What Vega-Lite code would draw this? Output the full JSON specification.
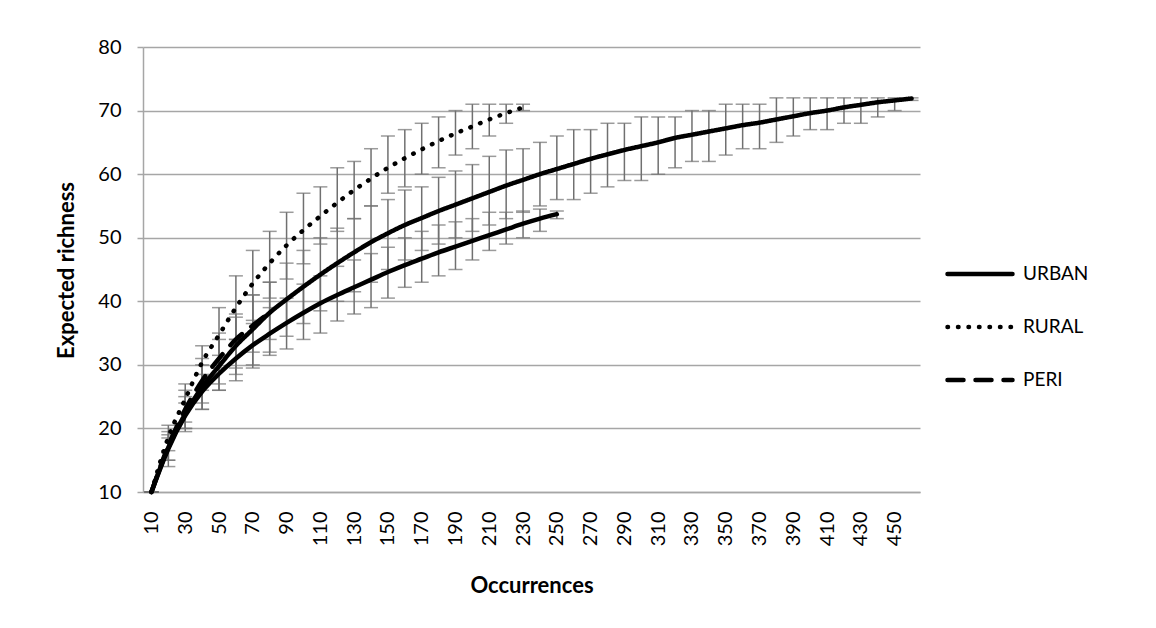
{
  "$schema": "https://vega.github.io/schema/vega-lite/v6.json",
  "width": 777,
  "height": 445,
  "autosize": "none",
  "padding": {"left": 143, "top": 47, "right": 236, "bottom": 136},
  "background": "white",
  "config": {
    "view": {"stroke": null},
    "font": "Lato",
    "axis": {
      "labelFont": "Lato", "titleFont": "Lato",
      "labelFontSize": 20, "titleFontSize": 22,
      "labelColor": "#000000", "titleColor": "#000000",
      "domainColor": "#a6a6a6", "domainWidth": 1.5,
      "tickColor": "#a6a6a6", "tickWidth": 1.5,
      "gridColor": "#a6a6a6", "gridWidth": 1.5,
      "titleFontWeight": "bold"
    },
    "axisY": {"grid": true, "tickSize": 6, "labelPadding": 16, "titleX": -77, "titleY": 223, "titleBaseline": "middle", "titleAngle": 270},
    "axisX": {"grid": false, "ticks": false, "tickSize": 0, "labelPadding": 19, "labelAngle": 270, "titleY": 93, "titleBaseline": "middle"},
    "legend": {
      "labelFont": "Lato", "labelFontSize": 19, "labelColor": "#000000",
      "symbolType": "stroke", "symbolSize": 4225, "symbolStrokeWidth": 4.5,
      "symbolStrokeColor": "#000000", "labelOffset": 8, "rowPadding": 8
    }
  },
  "data": {"values": [
    {"s":"URBAN","o":10,"v":10,"lo":10,"hi":10},
    {"s":"URBAN","o":20,"v":17.0,"lo":15,"hi":19},
    {"s":"URBAN","o":30,"v":22.3,"lo":19.5,"hi":25},
    {"s":"URBAN","o":40,"v":26.5,"lo":23,"hi":30},
    {"s":"URBAN","o":50,"v":29.8,"lo":26,"hi":34},
    {"s":"URBAN","o":60,"v":33.0,"lo":28.5,"hi":37.5},
    {"s":"URBAN","o":70,"v":35.6,"lo":30,"hi":41},
    {"s":"URBAN","o":80,"v":38.2,"lo":32,"hi":43},
    {"s":"URBAN","o":90,"v":40.3,"lo":34.5,"hi":46},
    {"s":"URBAN","o":100,"v":42.3,"lo":36.5,"hi":48},
    {"s":"URBAN","o":110,"v":44.2,"lo":38.5,"hi":50},
    {"s":"URBAN","o":120,"v":46.0,"lo":40,"hi":51.5},
    {"s":"URBAN","o":130,"v":47.7,"lo":41.5,"hi":53},
    {"s":"URBAN","o":140,"v":49.3,"lo":43,"hi":55},
    {"s":"URBAN","o":150,"v":50.7,"lo":45,"hi":56},
    {"s":"URBAN","o":160,"v":52.0,"lo":46.5,"hi":57.5},
    {"s":"URBAN","o":170,"v":53.1,"lo":48,"hi":58},
    {"s":"URBAN","o":180,"v":54.2,"lo":49,"hi":59.5},
    {"s":"URBAN","o":190,"v":55.2,"lo":50,"hi":60.5},
    {"s":"URBAN","o":200,"v":56.2,"lo":51,"hi":61.5},
    {"s":"URBAN","o":210,"v":57.2,"lo":52,"hi":62.8},
    {"s":"URBAN","o":220,"v":58.2,"lo":53,"hi":63.8},
    {"s":"URBAN","o":230,"v":59.1,"lo":54,"hi":64},
    {"s":"URBAN","o":240,"v":60.0,"lo":55,"hi":65},
    {"s":"URBAN","o":250,"v":60.8,"lo":56,"hi":66},
    {"s":"URBAN","o":260,"v":61.6,"lo":56,"hi":67},
    {"s":"URBAN","o":270,"v":62.4,"lo":57,"hi":67},
    {"s":"URBAN","o":280,"v":63.1,"lo":58,"hi":68},
    {"s":"URBAN","o":290,"v":63.8,"lo":59,"hi":68},
    {"s":"URBAN","o":300,"v":64.4,"lo":59,"hi":69},
    {"s":"URBAN","o":310,"v":65.0,"lo":60,"hi":69},
    {"s":"URBAN","o":320,"v":65.7,"lo":61,"hi":69},
    {"s":"URBAN","o":330,"v":66.2,"lo":62,"hi":70},
    {"s":"URBAN","o":340,"v":66.7,"lo":62,"hi":70},
    {"s":"URBAN","o":350,"v":67.2,"lo":63,"hi":71},
    {"s":"URBAN","o":360,"v":67.7,"lo":64,"hi":71},
    {"s":"URBAN","o":370,"v":68.1,"lo":64,"hi":71},
    {"s":"URBAN","o":380,"v":68.6,"lo":65,"hi":72},
    {"s":"URBAN","o":390,"v":69.1,"lo":66,"hi":72},
    {"s":"URBAN","o":400,"v":69.6,"lo":67,"hi":72},
    {"s":"URBAN","o":410,"v":70.0,"lo":67,"hi":72},
    {"s":"URBAN","o":420,"v":70.5,"lo":68,"hi":72},
    {"s":"URBAN","o":430,"v":70.9,"lo":68,"hi":72},
    {"s":"URBAN","o":440,"v":71.3,"lo":69,"hi":72},
    {"s":"URBAN","o":450,"v":71.6,"lo":70,"hi":72},
    {"s":"URBAN","o":460,"v":71.9,"lo":71.6,"hi":72},
    {"s":"OTHER","o":10,"v":10,"lo":10,"hi":10},
    {"s":"OTHER","o":20,"v":16.8,"lo":15,"hi":18.5},
    {"s":"OTHER","o":30,"v":22.0,"lo":20,"hi":24},
    {"s":"OTHER","o":40,"v":25.8,"lo":23,"hi":28.5},
    {"s":"OTHER","o":50,"v":28.6,"lo":26,"hi":31.5},
    {"s":"OTHER","o":60,"v":31.0,"lo":27.5,"hi":34},
    {"s":"OTHER","o":70,"v":33.1,"lo":29.5,"hi":36.5},
    {"s":"OTHER","o":80,"v":34.9,"lo":31.5,"hi":39},
    {"s":"OTHER","o":90,"v":36.6,"lo":32.5,"hi":40.5},
    {"s":"OTHER","o":100,"v":38.2,"lo":34,"hi":42.7},
    {"s":"OTHER","o":110,"v":39.7,"lo":35,"hi":44},
    {"s":"OTHER","o":120,"v":41.0,"lo":36.9,"hi":45.5},
    {"s":"OTHER","o":130,"v":42.2,"lo":38,"hi":46.5},
    {"s":"OTHER","o":140,"v":43.4,"lo":39,"hi":47.5},
    {"s":"OTHER","o":150,"v":44.6,"lo":40.5,"hi":48.5},
    {"s":"OTHER","o":160,"v":45.7,"lo":42.2,"hi":50},
    {"s":"OTHER","o":170,"v":46.7,"lo":43,"hi":51},
    {"s":"OTHER","o":180,"v":47.7,"lo":44,"hi":52},
    {"s":"OTHER","o":190,"v":48.6,"lo":45,"hi":52.5},
    {"s":"OTHER","o":200,"v":49.5,"lo":46.5,"hi":53},
    {"s":"OTHER","o":210,"v":50.4,"lo":48,"hi":54},
    {"s":"OTHER","o":220,"v":51.3,"lo":49,"hi":54},
    {"s":"OTHER","o":230,"v":52.2,"lo":50,"hi":54.2},
    {"s":"OTHER","o":240,"v":53.0,"lo":51,"hi":54.5},
    {"s":"OTHER","o":250,"v":53.7,"lo":53,"hi":54.2},
    {"s":"RURAL","o":10,"v":10,"lo":10,"hi":10},
    {"s":"RURAL","o":20,"v":18.6,"lo":16.5,"hi":20.5},
    {"s":"RURAL","o":30,"v":24.6,"lo":21,"hi":27},
    {"s":"RURAL","o":40,"v":30.4,"lo":26,"hi":33},
    {"s":"RURAL","o":50,"v":34.7,"lo":29.5,"hi":39},
    {"s":"RURAL","o":60,"v":39.0,"lo":34,"hi":44},
    {"s":"RURAL","o":70,"v":42.8,"lo":37,"hi":48},
    {"s":"RURAL","o":80,"v":46.0,"lo":40.5,"hi":51},
    {"s":"RURAL","o":90,"v":48.8,"lo":43.5,"hi":54},
    {"s":"RURAL","o":100,"v":51.2,"lo":45.9,"hi":57},
    {"s":"RURAL","o":110,"v":53.4,"lo":49,"hi":58},
    {"s":"RURAL","o":120,"v":55.5,"lo":51,"hi":61},
    {"s":"RURAL","o":130,"v":57.5,"lo":53,"hi":62},
    {"s":"RURAL","o":140,"v":59.3,"lo":55,"hi":64},
    {"s":"RURAL","o":150,"v":61.0,"lo":57,"hi":66},
    {"s":"RURAL","o":160,"v":62.5,"lo":58,"hi":67},
    {"s":"RURAL","o":170,"v":63.9,"lo":60,"hi":68},
    {"s":"RURAL","o":180,"v":65.2,"lo":61,"hi":69},
    {"s":"RURAL","o":190,"v":66.4,"lo":63,"hi":70},
    {"s":"RURAL","o":200,"v":67.5,"lo":64,"hi":71},
    {"s":"RURAL","o":210,"v":68.6,"lo":66,"hi":71},
    {"s":"RURAL","o":220,"v":69.6,"lo":68,"hi":71},
    {"s":"RURAL","o":230,"v":70.5,"lo":70,"hi":71},
    {"s":"PERI","o":10,"v":10,"lo":10,"hi":10},
    {"s":"PERI","o":20,"v":17.3,"lo":14,"hi":19.5},
    {"s":"PERI","o":30,"v":23.0,"lo":20,"hi":26},
    {"s":"PERI","o":40,"v":27.5,"lo":24,"hi":31},
    {"s":"PERI","o":50,"v":31.0,"lo":27,"hi":35},
    {"s":"PERI","o":60,"v":34.0,"lo":29.5,"hi":38},
    {"s":"PERI","o":70,"v":36.2,"lo":32,"hi":41},
    {"s":"PERI","o":80,"v":38.2,"lo":34,"hi":43}
  ]},
  "encoding": {
    "x": {
      "field": "o", "type": "ordinal",
      "scale": {"type": "point", "padding": 0.5},
      "title": "Occurrences",
      "axis": {"values": [10,30,50,70,90,110,130,150,170,190,210,230,250,270,290,310,330,350,370,390,410,430,450]}
    }
  },
  "layer": [
    {
      "mark": {"type": "rule", "color": "#707070", "strokeWidth": 1.5},
      "encoding": {
        "y": {"field": "lo", "type": "quantitative", "scale": {"domain": [10, 80], "nice": false}, "title": "Expected richness", "axis": {"values": [10,20,30,40,50,60,70,80]}},
        "y2": {"field": "hi"}
      }
    },
    {
      "mark": {"type": "tick", "color": "#707070", "size": 14, "thickness": 1.5, "orient": "horizontal"},
      "encoding": {
        "y": {"field": "lo", "type": "quantitative", "scale": {"domain": [10, 80], "nice": false}, "title": "Expected richness", "axis": {"values": [10,20,30,40,50,60,70,80]}}
      }
    },
    {
      "mark": {"type": "tick", "color": "#707070", "size": 14, "thickness": 1.5, "orient": "horizontal"},
      "encoding": {
        "y": {"field": "hi", "type": "quantitative", "scale": {"domain": [10, 80], "nice": false}, "title": "Expected richness", "axis": {"values": [10,20,30,40,50,60,70,80]}}
      }
    },
    {
      "transform": [{"filter": "datum.s === 'OTHER'"}],
      "mark": {"type": "line", "color": "#000000", "strokeWidth": 4.5, "strokeCap": "round", "interpolate": "monotone"},
      "encoding": {
        "y": {"field": "v", "type": "quantitative", "scale": {"domain": [10, 80], "nice": false}, "title": "Expected richness", "axis": {"values": [10,20,30,40,50,60,70,80]}}
      }
    },
    {
      "transform": [{"filter": "datum.s !== 'OTHER'"}],
      "mark": {"type": "line", "color": "#000000", "strokeWidth": 4.5, "strokeCap": "round", "interpolate": "monotone"},
      "encoding": {
        "y": {"field": "v", "type": "quantitative", "scale": {"domain": [10, 80], "nice": false}, "title": "Expected richness", "axis": {"values": [10,20,30,40,50,60,70,80]}},
        "strokeDash": {
          "field": "s", "type": "nominal",
          "scale": {"domain": ["URBAN", "RURAL", "PERI"], "range": [[1, 0], [0.5, 10], [16, 12]]},
          "legend": {
            "title": null, "orient": "none", "legendX": 802, "legendY": 192,
            "encode": {"symbols": {"update": {"strokeCap": {"value": "round"}}}}
          }
        }
      }
    }
  ]
}
